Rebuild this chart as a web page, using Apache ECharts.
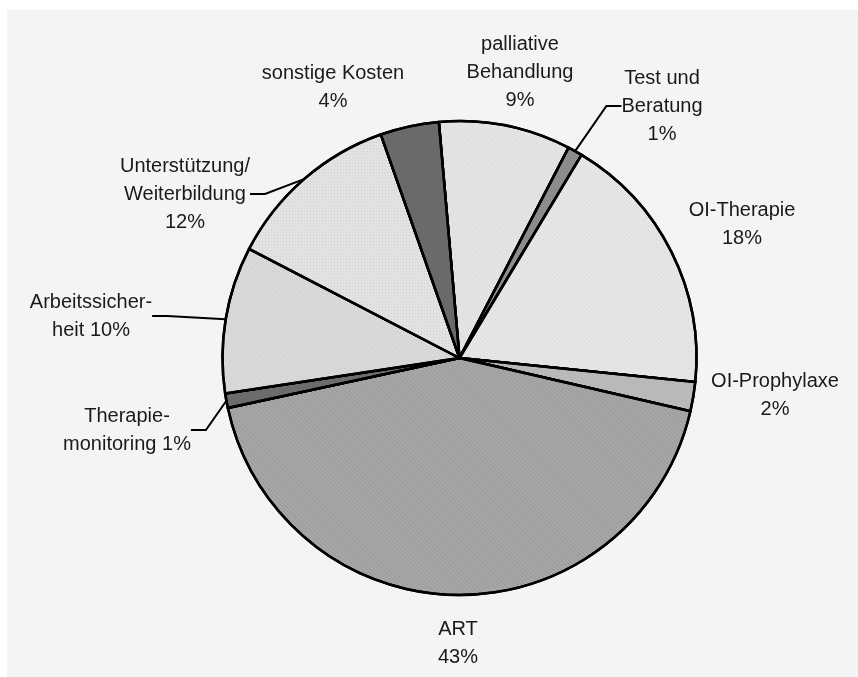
<!DOCTYPE html>
<html>
<head>
<meta charset="utf-8">
<script src="https://cdn.jsdelivr.net/npm/echarts@6/dist/echarts.min.js"></script>
<style>
  html, body { margin: 0; padding: 0; background: #ffffff; }
  #chart { position: absolute; left: 7px; top: 10px; width: 851px; height: 667px; background: #f4f4f4; }
</style>
</head>
<body>
<div id="chart"></div>
<script>
// Cost shares, clockwise from the top
const categories = [
  'palliative\nBehandlung',
  'Test und\nBeratung',
  'OI-Therapie',
  'OI-Prophylaxe',
  'ART',
  'Therapie-\nmonitoring',
  'Arbeitssicher-\nheit',
  'Unterstützung/\nWeiterbildung',
  'sonstige Kosten'
];
const shares = [9, 1, 18, 2, 43, 1, 10, 12, 4];
// separator between the name and its percentage
const percentSep = ['\n', '\n', '\n', '\n', '\n', ' ', ' ', '\n', '\n'];

const sliceColors = ['#e4e4e4', '#8c8c8c', '#e6e6e6', '#b9b9b9', '#a7a7a7', '#6c6c6c', '#d9d9d9', '#e2e2e2', '#6a6a6a'];
const hasLeader = [false, true, false, false, false, true, true, true, false];

// fine fill textures: dotted grid for the light slices, horizontal hatching for ART
const dotTexture = { symbol: 'rect', symbolSize: 1, dashArrayX: [1, 2], dashArrayY: [1, 2], color: 'rgba(0,0,0,0.07)' };
const lineTexture = { symbol: 'rect', symbolSize: 1, dashArrayX: [1, 0], dashArrayY: [1, 2], color: 'rgba(0,0,0,0.07)' };
const noTexture = { symbol: 'none' };
const sliceTextures = [dotTexture, noTexture, dotTexture, noTexture, lineTexture, noTexture, dotTexture, dotTexture, noTexture];

// label block centres in chart pixels
const labelPos = [
  [513, 62], [655, 96], [735, 214], [768, 385], [451, 633],
  [120, 420], [84, 306], [178, 184], [326, 77]
];

const chart = echarts.init(document.getElementById('chart'), null, { renderer: 'canvas' });

const data = categories.map((name, i) => ({
  name: name,
  value: shares[i],
  itemStyle: { color: sliceColors[i], decal: sliceTextures[i] },
  labelLine: { show: hasLeader[i] }
}));

chart.setOption({
  animation: false,
  aria: { enabled: true, decal: { show: true } },
  series: [{
    type: 'pie',
    center: [452.5, 348],
    radius: 237,
    startAngle: 95,
    clockwise: true,
    avoidLabelOverlap: false,
    data: data,
    itemStyle: { borderColor: '#000', borderWidth: 2.5 },
    label: {
      show: true,
      position: 'outside',
      color: '#1a1a1a',
      fontFamily: '"Liberation Sans", Arial, sans-serif',
      fontSize: 20,
      lineHeight: 28,
      align: 'center',
      formatter: p => p.name + percentSep[p.dataIndex] + p.value + '%'
    },
    labelLine: {
      length: 15,
      length2: 15,
      lineStyle: { color: '#000', width: 2 }
    },
    labelLayout: p => ({
      x: labelPos[p.dataIndex][0],
      y: labelPos[p.dataIndex][1],
      align: 'center',
      verticalAlign: 'middle'
    }),
    emphasis: { disabled: true }
  }]
});
</script>
</body>
</html>
